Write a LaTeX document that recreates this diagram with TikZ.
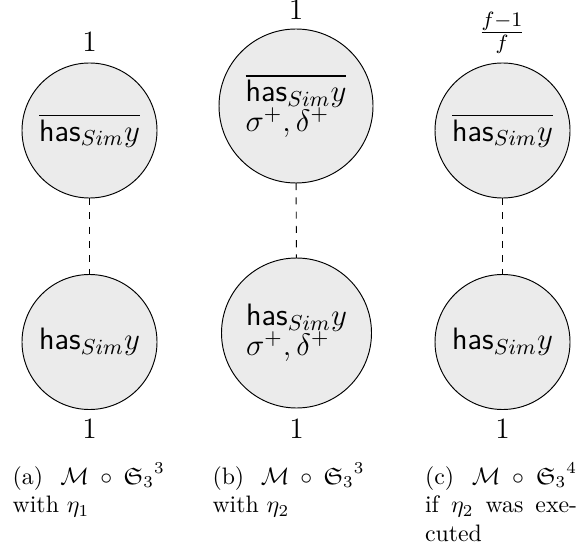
\RequirePackage{fix-cm}
\documentclass[tikz,border=0pt]{standalone}
\usepackage{amssymb}
\newcommand\circfont{\fontsize{13}{12.6}\selectfont\lineskiplimit=-20pt\relax}
\tikzset{
  every node/.style={inner sep=0pt, outer sep=0pt},
  circ/.style={circle, draw, line width=0.4pt, fill=black!8, align=left, font=\circfont},
  smallcirc/.style={circ, minimum size=56.73pt},
  num/.style={font=\fontsize{12.4}{15}\selectfont, anchor=base},
  captext/.style={font=\fontsize{10}{12}\selectfont, text width=63.9pt, align=justify, anchor=base west},
  link/.style={dashed, line width=0.4pt},
}
\begin{document}
\begin{tikzpicture}[x=0.4202pt,y=-0.4202pt]
\useasboundingbox (0,0) rectangle (580,551);
% column (a)
\node[smallcirc] (a1) at (89.5,130.5) {$\overline{\textsf{has}_{Sim}y}$};
\node[smallcirc] (a2) at (89.5,342) {$\textsf{has}_{Sim}y$};
\draw[link] (a1) -- (a2);
\node[num] (ta) at (89.5,52) {$1$};
\node[num] (ba) at (89.5,438) {$1$};
\node[captext] (ca) at (12.7,484) {(a)~$\mathcal{M}\circ{\mathfrak{S}_3}^3$\linebreak with $\eta_1$};
% column (b)
\node[circ, minimum size=64.71pt] (b1) at (296,106) {$\overline{\textsf{has}_{Sim}y}$\\$\sigma^+,\delta^+$};
\node[circ, minimum size=63.03pt] (b2) at (296.5,333) {$\textsf{has}_{Sim}y$\\$\sigma^+,\delta^+$};
\draw[link] (b1) -- (b2);
\node[num] (tb) at (296,20) {$1$};
\node[num] (bb) at (296.5,438) {$1$};
\node[captext] (cb) at (212.5,484) {(b)~$\mathcal{M}\circ{\mathfrak{S}_3}^3$\linebreak with $\eta_2$};
% column (c)
\node[smallcirc] (c1) at (502.5,130.5) {$\overline{\textsf{has}_{Sim}y}$};
\node[smallcirc] (c2) at (502.5,342) {$\textsf{has}_{Sim}y$};
\draw[link] (c1) -- (c2);
\node[num] (tc) at (502,39.5) {$\frac{f-1}{f}$};
\node[num] (bc) at (502.5,438) {$1$};
\node[captext] (cc) at (425,484) {(c)~$\mathcal{M}\circ{\mathfrak{S}_3}^4$\linebreak if $\eta_2$ was exe-\linebreak cuted};
\end{tikzpicture}
\end{document}
